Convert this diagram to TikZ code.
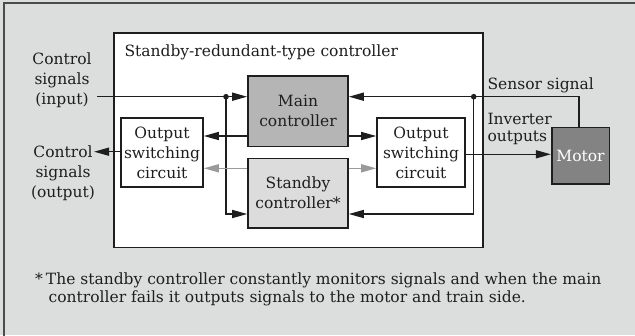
\documentclass[tikz,border=0pt]{standalone}
\usepackage{fontspec}
\setmainfont{DejaVu Serif}
\usetikzlibrary{arrows.meta}
\definecolor{panel}{HTML}{DCDDDD}
\definecolor{mainfill}{HTML}{B5B5B5}
\definecolor{sparefill}{HTML}{DCDCDC}
\definecolor{motorfill}{HTML}{838383}
\definecolor{passive}{HTML}{9A9A9A}
\definecolor{ink}{HTML}{1E1E1E}
\tikzset{
  txt/.style={font=\fontsize{15.5}{20}\selectfont, text=ink},
  block/.style={draw=ink, line width=1.6pt, align=center, inner sep=0pt, txt},
  sig/.style={draw=ink, line width=1.5pt, -{Triangle[length=15pt,width=8pt]}},
  idle/.style={draw=passive, line width=1.5pt, -{Triangle[length=15pt,width=8pt]}},
  joint/.style={fill=ink}
}
\begin{document}
\begin{tikzpicture}[x=1pt,y=-1pt]
\useasboundingbox (0,0) rectangle (635,335);
\clip (0,0) rectangle (635,335);
\fill[panel] (0,0) rectangle (635,335);
\draw[draw=ink!80, line width=1.4pt] (4,3) rectangle (645,345);

% controller enclosure
\node[draw=ink, line width=1.6pt, fill=white, minimum width=368.7pt, minimum height=214.3pt, inner sep=0pt] (ctrl) at (298.35,140.15) {};
\node[txt, anchor=west] (title) at (121,52) {Standby-redundant-type controller};

% blocks
\node[block, fill=mainfill, minimum width=100pt, minimum height=70.7pt] (main) at (298,111.3) {Main\\controller};
\node[block, fill=sparefill, minimum width=100pt, minimum height=69.4pt] (spare) at (298,193) {Standby\\controller*};
\node[block, fill=white, minimum width=82pt, minimum height=69pt] (losc) at (162,152.7) {Output\\switching\\circuit};
\node[block, fill=white, minimum width=88pt, minimum height=69pt] (rosc) at (421,152.5) {Output\\switching\\circuit};
\node[block, fill=motorfill, text=white, minimum width=57.6pt, minimum height=56.7pt] (motor) at (580.5,155.7) {Motor};

% outside labels
\node[txt, align=center] (inlbl) at (62,80) {Control\\signals\\(input)};
\node[txt, align=center] (outlbl) at (63,173.5) {Control\\signals\\(output)};
\node[txt, anchor=west] (senlbl) at (484,85) {Sensor signal};
\node[txt, anchor=west, align=left, font=\fontsize{15.5}{17}\selectfont] (invlbl) at (484,128.5) {Inverter\\outputs};

% routing points
\coordinate (inEnd) at (97,96.7);
\coordinate (jIn) at (226,96.7);
\coordinate (jSen) at (473.7,96.7);
\coordinate (senTop) at (579,96.7);
\coordinate (lowRow) at (0,214);
\coordinate (cmdRow) at (0,136);
\coordinate (idleRow) at (0,168.3);
\coordinate (outTip) at (94,151.7);
\coordinate (invRow) at (0,154.3);

% input distribution
\draw[sig] (inEnd) -- (main.west |- inEnd);
\draw[sig] (jIn) |- (spare.west |- lowRow);
\fill[joint] (jIn) circle (2.8);

% sensor feedback
\draw[sig] (motor.north -| senTop) -- (senTop) -- (main.east |- senTop);
\draw[sig] (jSen) |- (spare.east |- lowRow);
\fill[joint] (jSen) circle (2.8);

% controller outputs
\draw[sig] (main.west |- cmdRow) -- (losc.east |- cmdRow);
\draw[sig] (main.east |- cmdRow) -- (rosc.west |- cmdRow);
\draw[idle] (spare.west |- idleRow) -- (losc.east |- idleRow);
\draw[idle] (spare.east |- idleRow) -- (rosc.west |- idleRow);

% switched outputs
\draw[sig] (losc.west |- outTip) -- (outTip);
\draw[sig] (rosc.east |- invRow) -- (motor.west |- invRow);

% footnote
\node[txt, anchor=north west, align=left, inner sep=0pt, font=\fontsize{15.5}{18}\selectfont] (note) at (35,273) {*\hspace{3pt}The standby controller constantly monitors signals and when the main\\\hspace{13.5pt}controller fails it outputs signals to the motor and train side.};
\end{tikzpicture}
\end{document}
